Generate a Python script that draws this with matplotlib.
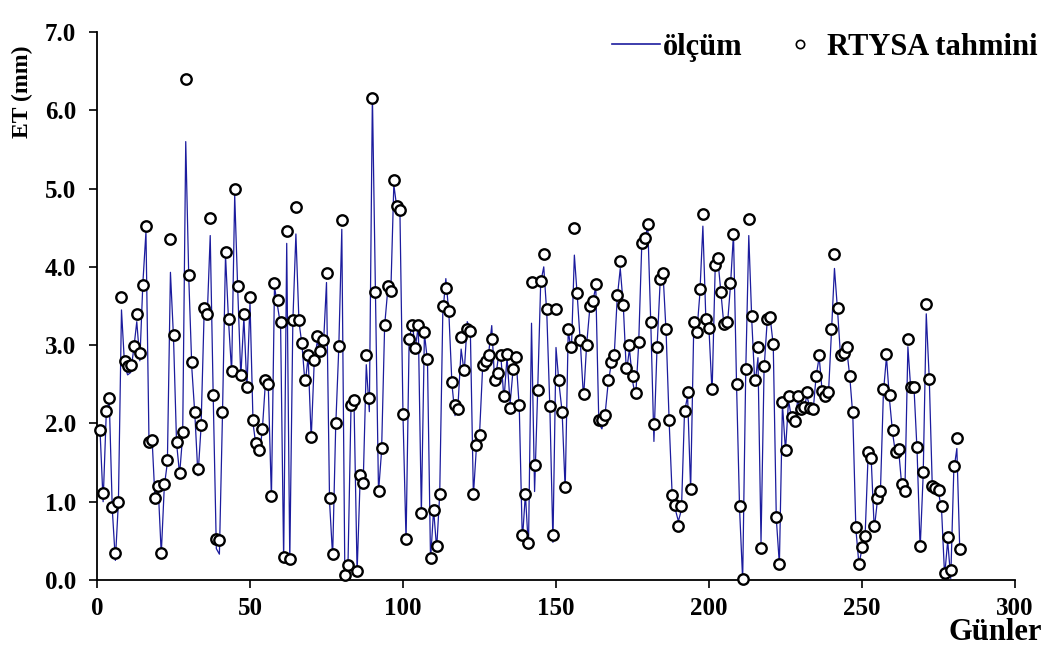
import numpy as np
import matplotlib
matplotlib.use("Agg")
import matplotlib.pyplot as plt
from matplotlib.lines import Line2D

# Daily evapotranspiration: measured (line) and RTYSA model prediction (circles)
olcum = [
    1.90, 1.00, 2.10, 2.30, 0.90, 0.25, 1.00, 3.45, 2.75, 2.62,
    2.65, 2.95, 3.30, 2.80, 3.80, 4.45, 1.74, 1.80, 1.00, 1.18,
    0.33, 1.20, 1.50, 3.93, 3.10, 1.75, 1.35, 1.85, 5.60, 3.85,
    2.70, 2.10, 1.33, 1.95, 3.40, 3.35, 4.40, 2.30, 0.40, 0.33,
    2.10, 4.15, 3.30, 2.65, 4.92, 3.70, 2.60, 3.35, 2.45, 3.55,
    2.00, 1.70, 1.60, 1.90, 2.50, 2.45, 1.05, 3.75, 3.50, 3.25,
    0.25, 4.30, 0.24, 3.30, 4.42, 3.30, 3.00, 2.50, 2.85, 1.80,
    2.80, 3.05, 2.90, 3.00, 3.80, 1.00, 0.30, 1.95, 2.95, 4.48,
    0.05, 0.15, 2.20, 2.25, 0.10, 1.30, 1.25, 2.75, 2.15, 6.20,
    3.65, 1.12, 1.65, 3.25, 3.70, 3.65, 5.05, 4.75, 4.70, 2.10,
    0.50, 3.05, 3.30, 2.95, 3.25, 0.85, 3.15, 2.80, 0.25, 0.90,
    0.40, 1.10, 3.40, 3.85, 3.40, 2.50, 2.10, 2.25, 2.95, 2.65,
    3.30, 3.20, 1.08, 1.70, 1.85, 2.70, 2.80, 2.90, 3.25, 2.50,
    2.80, 2.85, 2.30, 2.85, 2.25, 2.70, 2.80, 2.20, 0.50, 1.10,
    0.40, 3.28, 1.13, 2.40, 3.80, 4.00, 3.40, 2.20, 0.48, 2.97,
    2.50, 2.15, 1.15, 3.20, 2.90, 4.15, 3.60, 3.00, 2.32, 3.00,
    3.45, 3.55, 3.75, 2.00, 1.93, 2.10, 2.50, 2.75, 2.85, 3.60,
    3.98, 3.50, 2.65, 2.95, 2.55, 2.32, 3.00, 4.25, 4.35, 4.52,
    3.25, 1.77, 2.95, 3.78, 3.90, 3.15, 2.00, 1.05, 0.90, 0.75,
    0.90, 2.15, 2.35, 1.15, 3.20, 3.15, 3.65, 4.52, 3.30, 3.20,
    2.39, 3.95, 4.05, 3.62, 3.20, 3.25, 3.75, 4.42, 2.50, 0.90,
    0.00, 2.65, 4.40, 3.30, 2.48, 2.84, 0.48, 2.70, 3.30, 3.35,
    3.00, 0.78, 0.20, 2.25, 1.65, 2.30, 2.05, 2.00, 2.30, 2.15,
    2.20, 2.35, 2.20, 2.15, 2.60, 2.85, 2.40, 2.30, 2.35, 3.15,
    3.98, 3.45, 2.85, 2.90, 2.95, 2.60, 2.10, 0.65, 0.20, 0.40,
    0.55, 1.60, 1.55, 0.65, 1.00, 1.10, 2.40, 2.85, 2.30, 1.88,
    1.60, 1.65, 1.20, 1.10, 2.98, 2.40, 2.45, 1.65, 0.40, 1.35,
    3.40, 2.55, 1.15, 1.15, 1.12, 0.90, 0.05, 0.50, 0.02, 1.40,
    1.68, 0.32,
]

rtysa_tahmini = [
    1.92, 1.11, 2.16, 2.32, 0.93, 0.35, 0.99, 3.61, 2.80, 2.73,
    2.75, 2.99, 3.40, 2.90, 3.77, 4.52, 1.76, 1.79, 1.05, 1.20,
    0.35, 1.23, 1.53, 4.35, 3.13, 1.76, 1.37, 1.89, 6.40, 3.90,
    2.78, 2.14, 1.42, 1.98, 3.47, 3.40, 4.62, 2.36, 0.53, 0.51,
    2.15, 4.19, 3.33, 2.67, 5.00, 3.75, 2.62, 3.40, 2.47, 3.61,
    2.05, 1.75, 1.66, 1.93, 2.55, 2.50, 1.07, 3.80, 3.58, 3.30,
    0.30, 4.46, 0.27, 3.32, 4.76, 3.32, 3.03, 2.55, 2.87, 1.83,
    2.81, 3.12, 2.92, 3.06, 3.92, 1.05, 0.33, 2.01, 2.99, 4.60,
    0.06, 0.19, 2.23, 2.30, 0.12, 1.34, 1.24, 2.87, 2.33, 6.16,
    3.68, 1.14, 1.69, 3.26, 3.75, 3.69, 5.11, 4.78, 4.72, 2.12,
    0.52, 3.08, 3.26, 2.96, 3.26, 0.86, 3.17, 2.82, 0.28, 0.89,
    0.44, 1.10, 3.50, 3.73, 3.43, 2.53, 2.24, 2.19, 3.11, 2.68,
    3.20, 3.18, 1.10, 1.73, 1.85, 2.74, 2.80, 2.87, 3.08, 2.55,
    2.64, 2.88, 2.35, 2.89, 2.20, 2.70, 2.85, 2.23, 0.57, 1.10,
    0.47, 3.81, 1.47, 2.43, 3.82, 4.17, 3.46, 2.22, 0.58, 3.46,
    2.55, 2.15, 1.19, 3.20, 2.98, 4.50, 3.67, 3.07, 2.38, 3.00,
    3.50, 3.57, 3.78, 2.04, 2.05, 2.11, 2.56, 2.78, 2.87, 3.64,
    4.08, 3.51, 2.71, 3.00, 2.60, 2.39, 3.04, 4.30, 4.37, 4.55,
    3.30, 1.99, 2.98, 3.85, 3.92, 3.20, 2.04, 1.08, 0.96, 0.69,
    0.94, 2.16, 2.40, 1.16, 3.29, 3.17, 3.72, 4.68, 3.33, 3.22,
    2.44, 4.02, 4.11, 3.68, 3.27, 3.29, 3.80, 4.42, 2.51, 0.94,
    0.01, 2.70, 4.61, 3.37, 2.56, 2.97, 0.41, 2.73, 3.33, 3.36,
    3.02, 0.81, 0.21, 2.27, 1.66, 2.35, 2.08, 2.03, 2.35, 2.18,
    2.21, 2.40, 2.20, 2.18, 2.61, 2.88, 2.41, 2.35, 2.40, 3.20,
    4.16, 3.48, 2.88, 2.90, 2.98, 2.61, 2.15, 0.68, 0.21, 0.42,
    0.56, 1.64, 1.56, 0.69, 1.05, 1.14, 2.44, 2.89, 2.36, 1.91,
    1.63, 1.67, 1.22, 1.14, 3.08, 2.46, 2.47, 1.70, 0.44, 1.38,
    3.53, 2.57, 1.20, 1.18, 1.15, 0.94, 0.09, 0.55, 0.13, 1.45,
    1.82, 0.39,
]

gunler = np.arange(1, len(olcum) + 1)

x_ticks = [0, 50, 100, 150, 200, 250, 300]
y_ticks = [0.0, 1.0, 2.0, 3.0, 4.0, 5.0, 6.0, 7.0]

plt.rcParams['font.family'] = ['Liberation Serif', 'DejaVu Serif']
plt.rcParams['font.weight'] = 'bold'

fig = plt.figure(figsize=(10.5, 6.52), dpi=100)
ax = fig.add_axes([97 / 1050, 1 - 580 / 652, (1015 - 97) / 1050, (580 - 32) / 652])

line_color = '#1c1c9e'
ax.plot(gunler, olcum, color=line_color, lw=0.9, zorder=2)
ax.plot(gunler, rtysa_tahmini, linestyle='none', marker='o', markersize=7.5,
        markerfacecolor='white', markeredgecolor='black', markeredgewidth=1.7,
        zorder=3, clip_on=False)

ax.set_xlim(0, 300)
ax.set_ylim(0, 7)
ax.set_xticks(x_ticks)
ax.set_yticks(y_ticks)
ax.set_yticklabels([f"{v:.1f}" for v in y_ticks])
ax.set_xticklabels([str(v) for v in x_ticks])

for s in ['top', 'right']:
    ax.spines[s].set_visible(False)
for s in ['left', 'bottom']:
    ax.spines[s].set_linewidth(1.3)
ax.tick_params(axis='both', direction='out', length=6, width=1.2,
               labelsize=18)
ax.tick_params(axis='y', pad=9)
ax.tick_params(axis='x', pad=6)
for lab in ax.get_xticklabels() + ax.get_yticklabels():
    lab.set_fontweight('bold')

fig.text(22 / 1050, 1 - 92 / 652, 'ET (mm)', rotation=90, ha='center',
         va='center', fontsize=17, fontweight='bold')
fig.text(995 / 1050, 1 - 632 / 652, 'Günler', ha='center', va='center',
         fontsize=22, fontweight='bold')

handles = [
    Line2D([], [], color=line_color, lw=1.2),
    Line2D([], [], linestyle='none', marker='o', markersize=6,
           markerfacecolor='white', markeredgecolor='black',
           markeredgewidth=1.2),
]
fig.legend(handles, ['ölçüm', 'RTYSA tahmini'], loc='upper left',
           bbox_to_anchor=(612 / 1050, 1 - 33 / 652), ncol=2, frameon=False,
           prop={'family': 'Liberation Serif', 'weight': 'bold', 'size': 22},
           borderpad=0, borderaxespad=0,
           handlelength=1.57, handletextpad=0.1, columnspacing=1.1)

fig.savefig('out.png', dpi=100)
